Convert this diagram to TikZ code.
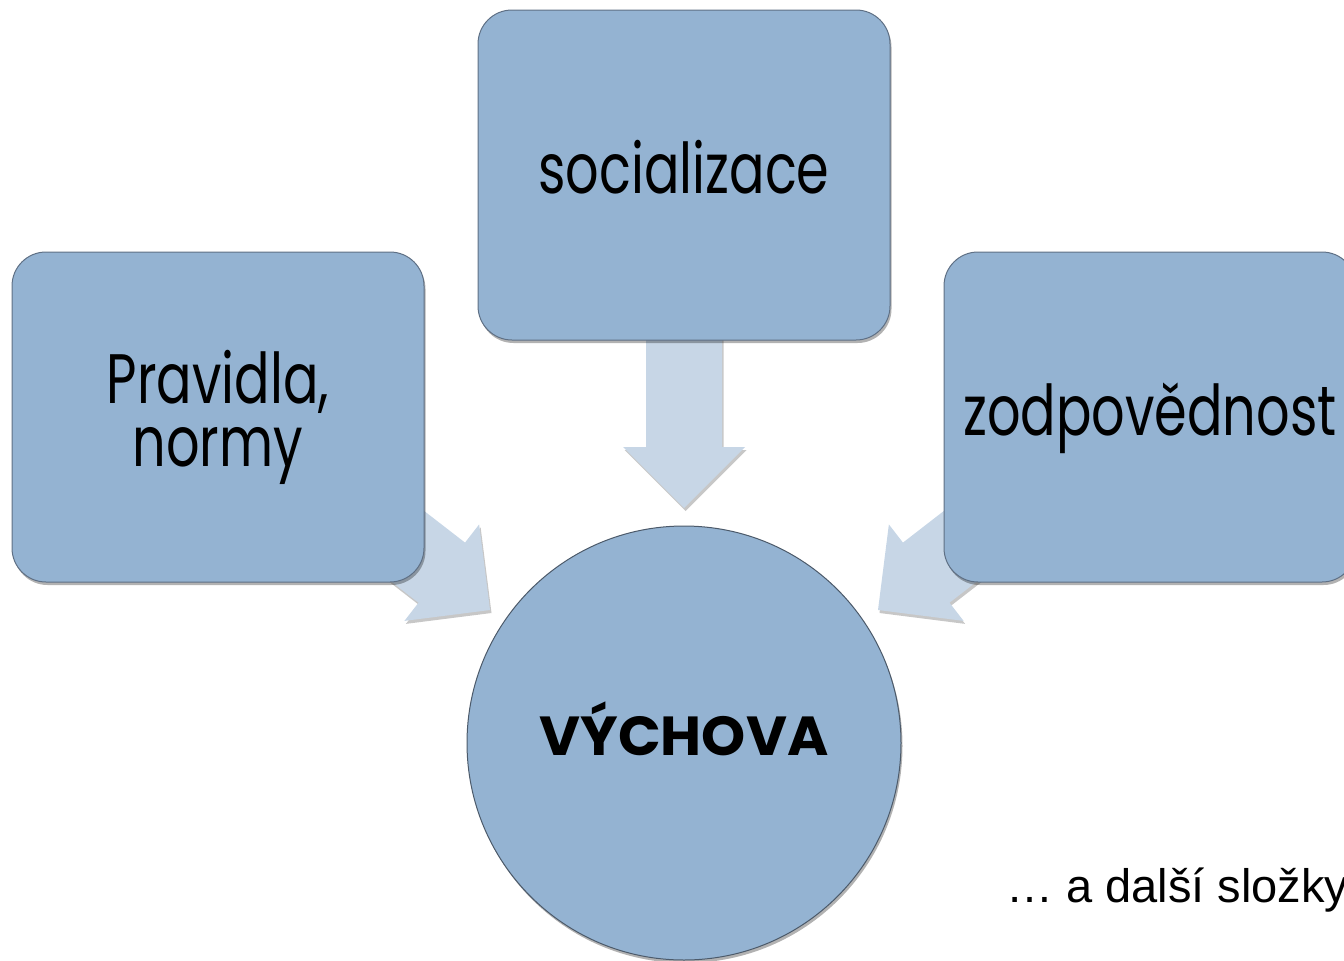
\documentclass[tikz,border=0pt]{standalone}
\usepackage{fontspec}
\setmainfont{Liberation Sans}
\newfontfamily\boxfont[FakeStretch=0.75]{Poppins}
\newfontfamily\centerfont[FakeStretch=1.02]{Poppins}
\usetikzlibrary{calc,shadows}
\definecolor{boxblue}{RGB}{148,179,210}
\definecolor{boxline}{RGB}{95,112,133}
\definecolor{arrowblue}{RGB}{199,214,230}
\tikzset{
  softshadow/.style={drop shadow={shadow xshift=1.5pt, shadow yshift=-3pt, opacity=0.3, fill=black}},
  boxnode/.style={draw=boxline, line width=1pt, fill=boxblue, rounded corners=34pt,
    minimum width=412pt, minimum height=330pt, inner sep=0pt, align=center,
    font=\boxfont\fontsize{70}{63}\selectfont, softshadow},
  oneline/.style={text height=50pt, text depth=14pt},
  centernode/.style={circle, draw=boxline!80!black, line width=1pt, fill=boxblue,
    minimum size=434pt, inner sep=0pt, text height=40pt, text depth=16pt,
    font=\centerfont\bfseries\fontsize{55}{55}\selectfont, softshadow},
  arrowshape/.style={fill=arrowblue, drop shadow={shadow xshift=1.5pt, shadow yshift=-3pt, opacity=0.22, fill=black}},
  notenode/.style={inner sep=0pt, anchor=base west, font=\fontsize{47}{50}\selectfont}
}
\newcommand{\blockarr}[2]{%
  \coordinate (hb) at ($(#2)!61pt!(#1)$);
  \path[arrowshape] ($(#1)!38pt!90:(#2)$) -- ($(hb)!38pt!90:(#2)$) -- ($(hb)!61pt!90:(#2)$)
    -- (#2) -- ($(hb)!61pt!-90:(#2)$) -- ($(hb)!38pt!-90:(#2)$) -- ($(#1)!38pt!-90:(#2)$) -- cycle;
}
\begin{document}
\begin{tikzpicture}[x=1pt,y=-1pt]
\useasboundingbox (0,0) rectangle (1344,961);
\clip (0,0) rectangle (1344,961);
% arrow end points
\coordinate (ttail) at (684,300);
\coordinate (ttip) at (684,508);
\coordinate (ltail) at (357,507);
\coordinate (ltip) at (490,610);
\coordinate (rtail) at (1011,507);
\coordinate (rtip) at (878,610);
\blockarr{ttail}{ttip}
\blockarr{ltail}{ltip}
\blockarr{rtail}{rtip}
% boxes
\node[boxnode] (rules) at (218,417) {Pravidla,\\normy};
\node[boxnode, oneline] (social) at (684,175) {socializace};
\node[boxnode, oneline] (resp) at (1150,417) {zodpovědnost};
\node[centernode] (vychova) at (684,743) {VÝCHOVA};
\node[notenode] (more) at (1006,902) {… a další složky};
\end{tikzpicture}
\end{document}
